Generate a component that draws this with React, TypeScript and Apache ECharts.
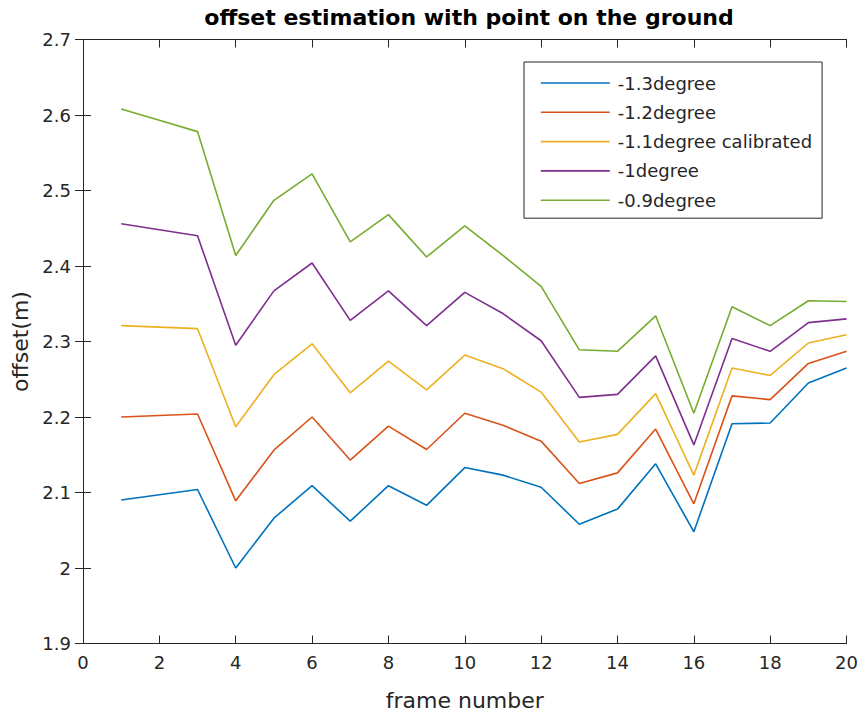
import React, { useEffect, useRef } from "react";
import * as echarts from "echarts";

const frames = [1, 2, 3, 4, 5, 6, 7, 8, 9, 10, 11, 12, 13, 14, 15, 16, 17, 18, 19, 20];

const seriesNames = [
  "-1.3degree",
  "-1.2degree",
  "-1.1degree calibrated",
  "-1degree",
  "-0.9degree",
];

const offsetMinus13 = [2.090, 2.097, 2.104, 2.000, 2.066, 2.109, 2.062, 2.109, 2.083, 2.133, 2.123, 2.107, 2.058, 2.078, 2.138, 2.048, 2.191, 2.192, 2.245, 2.265];
const offsetMinus12 = [2.200, 2.202, 2.204, 2.089, 2.156, 2.200, 2.143, 2.188, 2.157, 2.205, 2.189, 2.168, 2.112, 2.126, 2.184, 2.085, 2.228, 2.223, 2.271, 2.287];
const offsetMinus11 = [2.321, 2.319, 2.317, 2.187, 2.256, 2.297, 2.232, 2.274, 2.236, 2.282, 2.264, 2.233, 2.167, 2.177, 2.231, 2.123, 2.265, 2.255, 2.298, 2.309];
const offsetMinus10 = [2.456, 2.448, 2.440, 2.295, 2.367, 2.404, 2.328, 2.367, 2.321, 2.365, 2.337, 2.301, 2.226, 2.230, 2.281, 2.163, 2.304, 2.287, 2.325, 2.330];
const offsetMinus09 = [2.608, 2.593, 2.578, 2.414, 2.487, 2.522, 2.432, 2.468, 2.412, 2.453, 2.414, 2.373, 2.289, 2.287, 2.334, 2.205, 2.346, 2.321, 2.354, 2.353];

const seriesValues = [offsetMinus13, offsetMinus12, offsetMinus11, offsetMinus10, offsetMinus09];
const seriesColors = ["#0072BD", "#D95319", "#EDB120", "#7E2F8E", "#77AC30"];

const xTicks = { min: 0, max: 20, interval: 2 };
const yTicks = { min: 1.9, max: 2.7, interval: 0.1 };

const FONT = "DejaVu Sans";
const INK = "#262626";

export default function App() {
  const ref = useRef<HTMLDivElement>(null);

  useEffect(() => {
    document.body.style.margin = "0";
    const chart = echarts.init(ref.current!, null, { renderer: "svg" });

    const tickStyle = { show: true, inside: true, length: 8, lineStyle: { color: INK, width: 1 } };
    const lineStyle = { show: true, lineStyle: { color: INK, width: 1 } };

    chart.setOption({
      animation: false,
      backgroundColor: "#ffffff",
      title: {
        text: "offset estimation with point on the ground",
        left: 464,
        top: 1,
        textAlign: "center",
        textStyle: { fontFamily: FONT, fontSize: 22, fontWeight: "bold", color: "#000000" },
      },
      grid: { left: 83, right: 14, top: 39.5, bottom: 73.5, containLabel: false },
      legend: {
        orient: "vertical",
        left: 524,
        top: 62,
        padding: [12, 10, 9, 16],
        itemWidth: 69,
        itemHeight: 18,
        itemGap: 11.3,
        borderColor: INK,
        borderWidth: 1,
        backgroundColor: "#ffffff",
        itemStyle: { opacity: 0 },
        lineStyle: { width: 1.6 },
        textStyle: { fontFamily: FONT, fontSize: 18, color: INK, padding: [0, 0, 0, 3] },
        data: seriesNames,
      },
      xAxis: [
        {
          type: "value",
          position: "bottom",
          ...xTicks,
          name: "frame number",
          nameLocation: "middle",
          nameGap: 46,
          nameTextStyle: { fontFamily: FONT, fontSize: 22, color: INK },
          axisLine: lineStyle,
          axisTick: tickStyle,
          splitLine: { show: false },
          axisLabel: { fontFamily: FONT, fontSize: 18, color: INK, margin: 10 },
        },
        {
          type: "value",
          position: "top",
          ...xTicks,
          axisLine: lineStyle,
          axisTick: tickStyle,
          splitLine: { show: false },
          axisLabel: { show: false },
        },
      ],
      yAxis: [
        {
          type: "value",
          position: "left",
          ...yTicks,
          name: "offset(m)",
          nameLocation: "middle",
          nameGap: 50,
          nameRotate: 90,
          nameTextStyle: { fontFamily: FONT, fontSize: 22, color: INK },
          axisLine: lineStyle,
          axisTick: tickStyle,
          splitLine: { show: false },
          axisLabel: {
            fontFamily: FONT,
            fontSize: 18,
            color: INK,
            margin: 12,
            formatter: (v: number) => String(parseFloat(v.toFixed(1))),
          },
        },
        {
          type: "value",
          position: "right",
          ...yTicks,
          axisLine: lineStyle,
          axisTick: tickStyle,
          splitLine: { show: false },
          axisLabel: { show: false },
        },
      ],
      series: seriesNames.map((name, i) => ({
        name,
        type: "line",
        xAxisIndex: 0,
        yAxisIndex: 0,
        symbol: "none",
        color: seriesColors[i],
        lineStyle: { color: seriesColors[i], width: 1.6 },
        data: frames.map((f, k) => [f, seriesValues[i][k]]),
      })),
    });

    return () => chart.dispose();
  }, []);

  return <div ref={ref} style={{ width: 861, height: 717 }} />;
}
